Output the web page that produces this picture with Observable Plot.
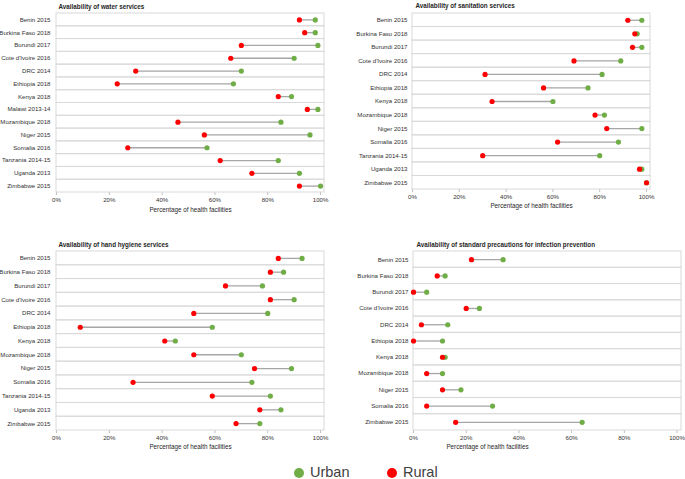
<!DOCTYPE html>
<html><head><meta charset="utf-8">
<script src="https://cdn.jsdelivr.net/npm/d3@7"></script>
<script src="https://cdn.jsdelivr.net/npm/@observablehq/plot@0.6"></script>
<style>
body{margin:0;background:#fff;width:685px;height:479px;position:relative;overflow:hidden;font-family:"Liberation Sans",Arial,sans-serif;}
.panel{position:absolute;}
.legend{position:absolute;top:463px;left:0;width:685px;height:20px;font-size:14.5px;color:#404040;}
.legend span{position:absolute;}
.dot{width:10px;height:10px;border-radius:50%;top:5px;}
</style>
</head><body>
<div id="p1" class="panel" style="left:0;top:0"></div>
<div id="p2" class="panel" style="left:340px;top:0"></div>
<div id="p3" class="panel" style="left:0;top:236px"></div>
<div id="p4" class="panel" style="left:340px;top:236px"></div>
<div class="legend">
  <span class="dot" style="left:294px;background:#70AD47"></span><span style="left:310px;top:1px">Urban</span>
  <span class="dot" style="left:387px;background:#FF0000"></span><span style="left:403px;top:1px">Rural</span>
</div>
<script>
// ---- data ----
const waterCountries = ["Benin 2015","Burkina Faso 2018","Burundi 2017","Cote d'Ivoire 2016","DRC 2014","Ethiopia 2018","Kenya 2018","Malawi 2013-14","Mozambique 2018","Niger 2015","Somalia 2016","Tanzania 2014-15","Uganda 2013","Zimbabwe 2015"];
const waterUrban = [98,98,99,90,70,67,89,99,85,96,57,84,92,100];
const waterRural = [92,94,70,66,30,23,84,95,46,56,27,62,74,92];

const sanCountries = ["Benin 2015","Burkina Faso 2018","Burundi 2017","Cote d'Ivoire 2016","DRC 2014","Ethiopia 2018","Kenya 2018","Mozambique 2018","Niger 2015","Somalia 2016","Tanzania 2014-15","Uganda 2013","Zimbabwe 2015"];
const sanUrban = [98,96,98,89,81,75,60,82,98,88,80,98,100];
const sanRural = [92,95,94,69,31,56,34,78,83,62,30,97,100];

const handCountries = ["Benin 2015","Burkina Faso 2018","Burundi 2017","Cote d'Ivoire 2016","DRC 2014","Ethiopia 2018","Kenya 2018","Mozambique 2018","Niger 2015","Somalia 2016","Tanzania 2014-15","Uganda 2013","Zimbabwe 2015"];
const handUrban = [93,86,78,90,80,59,45,70,89,74,81,85,77];
const handRural = [84,81,64,81,52,9,41,52,75,29,59,77,68];

const ipcCountries = ["Benin 2015","Burkina Faso 2018","Burundi 2017","Cote d'Ivoire 2016","DRC 2014","Ethiopia 2018","Kenya 2018","Mozambique 2018","Niger 2015","Somalia 2016","Zimbabwe 2015"];
const ipcUrban = [34,12,5,25,13,11,12,11,18,30,64];
const ipcRural = [22,9,0,20,3,0,11,5,11,5,16];

const xTicks = [0,0.2,0.4,0.6,0.8,1];
const GREEN = "#70AD47", RED = "#FF0000";

function panel(el, opt) {
  const rows = opt.countries.map((c,i)=>({c, u: opt.urban[i]/100, r: opt.rural[i]/100, lo: 0, hi: opt.xmax}));
  const plot = Plot.plot({
    width: opt.width, height: opt.height,
    marginLeft: opt.ml, marginRight: opt.mr, marginTop: opt.mt, marginBottom: opt.mb,
    style: {fontFamily: "'Liberation Sans', Arial, sans-serif", fontSize: "6.1px", color: "#333", background: "white"},
    x: {domain: [0, opt.xmax], ticks: xTicks, tickFormat: d3.format(".0%"), tickSize: 3, tickPadding: 2, label: null},
    y: {domain: opt.countries, padding: 0, round: false, tickSize: 0, tickPadding: opt.tp, label: null},
    marks: [
      Plot.barX(rows, {y: "c", x1: "lo", x2: "hi", fill: "none", stroke: "#D9D9D9", strokeWidth: 1, inset: 0}),
      Plot.link(rows, {y1: "c", y2: "c", x1: "r", x2: "u", stroke: "#A6A6A6", strokeWidth: 1.3}),
      Plot.dot(rows, {x: "u", y: "c", r: 2.6, fill: GREEN}),
      Plot.dot(rows, {x: "r", y: "c", r: 2.6, fill: RED}),
      Plot.text([opt.title], {frameAnchor: "top-left", dx: opt.tdx, dy: opt.tdy, text: d=>d, textAnchor: "start", fontWeight: "bold", fontSize: 6.3, fill: "#262626"}),
      Plot.text(["Percentage of health facilities"], {frameAnchor: "bottom", dy: opt.ldy, dx: opt.ldx, text: d=>d, fontSize: 6.3, fill: "#262626"})
    ]
  });
  plot.querySelectorAll('[aria-label="x-axis tick"]').forEach(p=>p.setAttribute("stroke","#BFBFBF"));
  document.getElementById(el).appendChild(plot);
}

panel("p1", {countries: waterCountries, urban: waterUrban, rural: waterRural, title: "Availability of water services",
  width: 340, height: 225, ml: 56, mr: 16, mt: 13, mb: 33, xmax: 1.015, tp: 6, tdx: 2, tdy: -9, ldy: 19, ldx: 0});
panel("p2", {countries: sanCountries, urban: sanUrban, rural: sanRural, title: "Availability of sanitation services",
  width: 345, height: 225, ml: 72, mr: 35, mt: 13, mb: 36, xmax: 1.017, tp: 5, tdx: 3, tdy: -10, ldy: 18, ldx: 0});
panel("p3", {countries: handCountries, urban: handUrban, rural: handRural, title: "Availability of hand hygiene services",
  width: 340, height: 225, ml: 56, mr: 16, mt: 15, mb: 31, xmax: 1.015, tp: 6, tdx: 2, tdy: -9, ldy: 18, ldx: 0});
panel("p4", {countries: ipcCountries, urban: ipcUrban, rural: ipcRural, title: "Availability of standard precautions for infection prevention",
  width: 345, height: 225, ml: 73, mr: 4, mt: 15, mb: 31, xmax: 1.017, tp: 5, tdx: 3, tdy: -9, ldy: 18, ldx: -60});
</script>
</body></html>
